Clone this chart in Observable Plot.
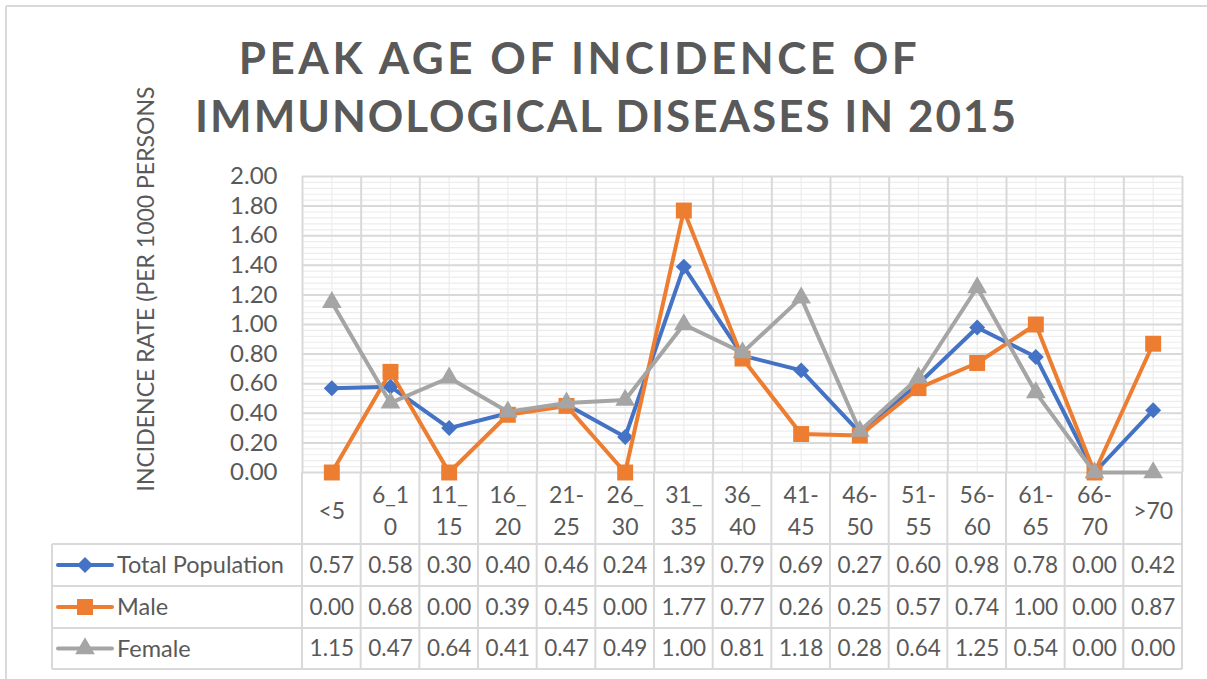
<!DOCTYPE html>
<html><head><meta charset="utf-8">
<script src="https://cdn.jsdelivr.net/npm/d3@7"></script>
<script src="https://cdn.jsdelivr.net/npm/@observablehq/plot@0.6"></script>
<style>
body{margin:0;background:#fff;}
#chart{position:relative;width:1207px;height:679px;overflow:hidden;font-family:Lato,sans-serif;color:#595959;background:#fff;}
#chart svg{position:absolute;left:0;top:0;}
.title{position:absolute;left:0;width:1207px;text-align:center;font-weight:700;font-size:44px;line-height:44px;white-space:nowrap;color:#595959;z-index:2;}
</style></head>
<body><div id="chart"></div>
<script>
// ---- data ----
const titleLines = ["PEAK AGE OF INCIDENCE OF", "IMMUNOLOGICAL DISEASES IN 2015"];
const yAxisTitle = "INCIDENCE RATE (PER 1000 PERSONS";
const categories = ["<5","6_1\n0","11_\n15","16_\n20","21-\n25","26_\n30","31_\n35","36_\n40","41-\n45","46-\n50","51-\n55","56-\n60","61-\n65","66-\n70",">70"];
const seriesNames = ["Total Population", "Male", "Female"];
const totalPopulation = [0.57,0.58,0.30,0.40,0.46,0.24,1.39,0.79,0.69,0.27,0.60,0.98,0.78,0.00,0.42];
const male = [0.00,0.68,0.00,0.39,0.45,0.00,1.77,0.77,0.26,0.25,0.57,0.74,1.00,0.00,0.87];
const female = [1.15,0.47,0.64,0.41,0.47,0.49,1.00,0.81,1.18,0.28,0.64,1.25,0.54,0.00,0.00];
const yTicks = [0,0.2,0.4,0.6,0.8,1.0,1.2,1.4,1.6,1.8,2.0];

// ---- styles ----
const colors = ["#4472C4", "#ED7D31", "#A5A5A5"];
const symbols = [d3.symbolDiamond2, d3.symbolSquare, d3.symbolTriangle];
const radii = [7.2, 9, 7.3];
const series = [totalPopulation, male, female];
const textColor = "#595959";
const gridMajor = "#d9d9d9";
const gridMinor = "#ededed";

const chart = document.getElementById("chart");
const frameBottom = 472;
const rowLines = [544, 586, 628, 669];
const rowCenters = [565, 607, 648.5];

const idx = categories.map((d, i) => i);
const bounds = d3.range(-0.5, categories.length, 1);
const minorY = d3.range(0, 2.0001, 0.04);

const marks = [
  Plot.ruleY(minorY, {stroke: gridMinor, strokeWidth: 1.2}),
  Plot.ruleX(idx, {stroke: gridMinor, strokeWidth: 1.2}),
  Plot.ruleY(yTicks, {stroke: gridMajor, strokeWidth: 2}),
  Plot.ruleX(bounds, {stroke: gridMajor, strokeWidth: 2}),
  Plot.axisY({ticks: yTicks, tickFormat: d => d.toFixed(2), tickSize: 0, tickPadding: 25, fontSize: 24, label: null, fill: textColor})
];
series.forEach((vals, k) => {
  marks.push(Plot.line(vals, {x: (d, i) => i, y: d => d, stroke: colors[k], strokeWidth: 4, strokeLinejoin: "round", strokeLinecap: "round"}));
  marks.push(Plot.dot(vals, {x: (d, i) => i, y: d => d, symbol: symbols[k], r: radii[k], fill: colors[k], stroke: "none"}));
});
marks.push(Plot.text(categories, {x: (d, i) => i, text: d => d, frameAnchor: "bottom", dy: 36, lineAnchor: "middle", lineHeight: 1.4, fontSize: 23, fill: textColor}));
series.forEach((vals, k) => {
  marks.push(Plot.text(vals, {x: (d, i) => i, text: d => d.toFixed(2), frameAnchor: "bottom", dy: rowCenters[k] - frameBottom, lineAnchor: "middle", fontSize: 22.5, fill: textColor}));
});

const plot = Plot.plot({
  width: 1207, height: 679,
  marginTop: 176, marginBottom: 679 - frameBottom, marginLeft: 302, marginRight: 25,
  x: {domain: [-0.5, categories.length - 0.5], axis: null},
  y: {domain: [0, 2], axis: null},
  style: {fontFamily: "Lato, sans-serif", fontSize: "21px", color: textColor, background: "transparent", overflow: "visible"},
  marks
});
chart.appendChild(plot);

// ---- decorations: table grid, legend keys, axis title, border ----
const svg = d3.select(plot);
const xs = plot.scale("x");
const X = v => xs.apply(v);
const under = svg.insert("g", "g").attr("stroke", gridMajor).attr("stroke-width", 2);
const xL = 52, xR = X(categories.length - 0.5);
bounds.forEach(b => under.append("line").attr("x1", X(b)).attr("x2", X(b)).attr("y1", frameBottom).attr("y2", rowLines[3]));
under.append("line").attr("x1", xL).attr("x2", xL).attr("y1", rowLines[0]).attr("y2", rowLines[3]);
rowLines.forEach(y => under.append("line").attr("x1", xL).attr("x2", xR).attr("y1", y).attr("y2", y));
// outer chart border
under.append("line").attr("x1", 6).attr("x2", 1207).attr("y1", 6).attr("y2", 6);
under.append("line").attr("x1", 6).attr("x2", 6).attr("y1", 6).attr("y2", 679);

const leg = svg.append("g");
seriesNames.forEach((name, k) => {
  const y = rowCenters[k];
  leg.append("line").attr("x1", 58).attr("x2", 112).attr("y1", y).attr("y2", y).attr("stroke", colors[k]).attr("stroke-width", 4).attr("stroke-linecap", "round");
  leg.append("path").attr("d", d3.symbol(symbols[k], Math.PI * radii[k] * radii[k])()).attr("transform", `translate(85,${y})`).attr("fill", colors[k]);
  leg.append("text").attr("x", 117).attr("y", y).attr("dy", "0.36em").attr("text-anchor", "start")
    .attr("fill", textColor).attr("font-size", 23.5).text(name);
});

svg.append("text").attr("transform", "translate(146,289) rotate(-90)").attr("text-anchor", "middle").attr("dy", "0.36em")
  .attr("fill", textColor).attr("font-size", 23).text(yAxisTitle);

// ---- title ----
const offs = [-24, 3];
const tops = [35, 93];
const spacing = [3.5, 2];
titleLines.forEach((t, i) => {
  const div = document.createElement("div");
  div.className = "title";
  div.style.top = tops[i] + "px";
  div.style.letterSpacing = spacing[i] + "px";
  div.style.transform = `translateX(${offs[i]}px)`;
  div.textContent = t;
  chart.appendChild(div);
});
</script>
</body></html>
